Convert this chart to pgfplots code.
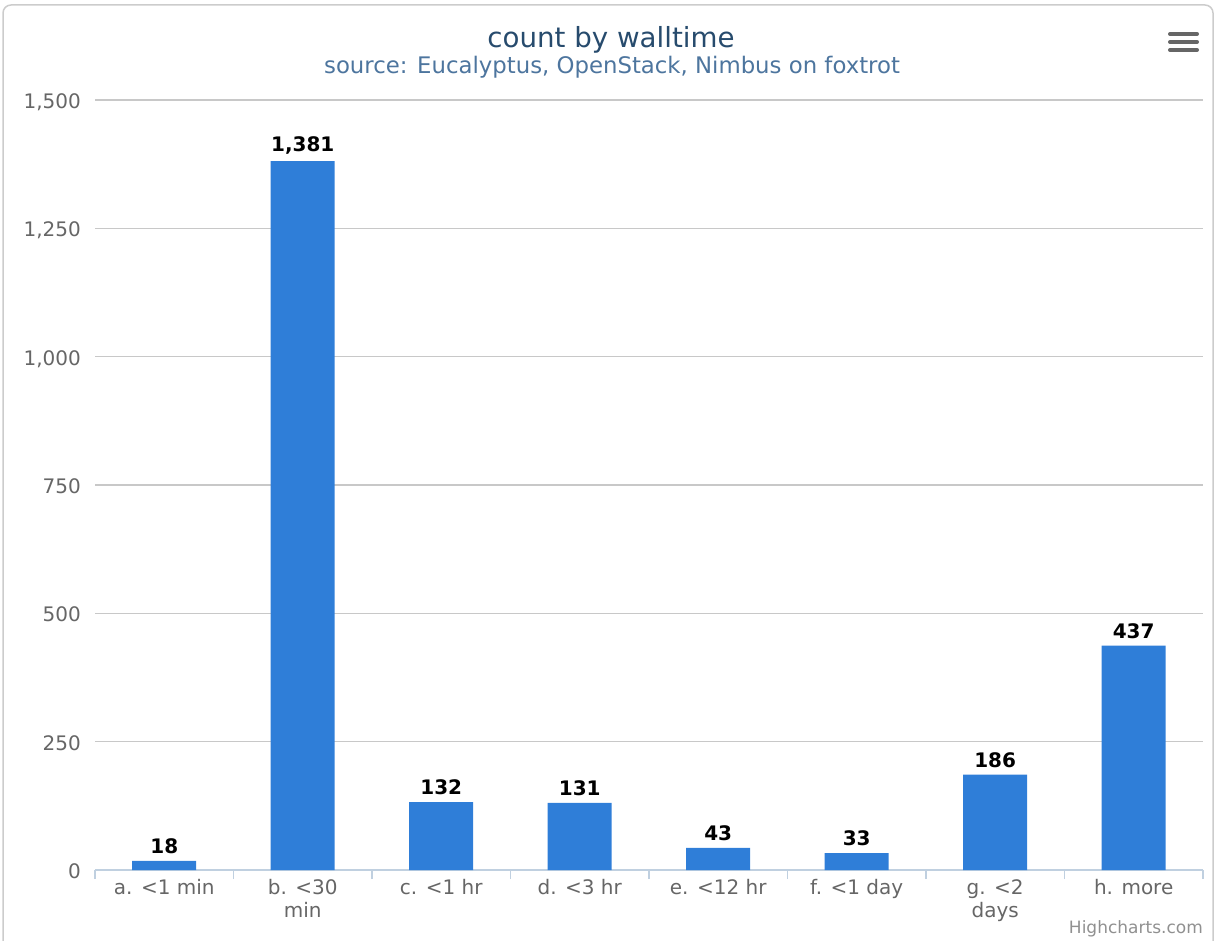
\documentclass[border=0pt]{standalone}
\usepackage{pgfplots}
\pgfplotsset{compat=1.18}
\usepackage{fontspec}
\setmainfont{DejaVu Sans}
\definecolor{barblue}{HTML}{2F7ED8}
\definecolor{gridgray}{HTML}{C8C8C8}
\definecolor{axisblue}{HTML}{C0D0E0}
\definecolor{labelgray}{HTML}{666666}
\definecolor{titlecol}{HTML}{274B6D}
\definecolor{subcol}{HTML}{4D759E}
\definecolor{creditgray}{HTML}{909090}
\definecolor{bordergray}{HTML}{CCCCCC}
\definecolor{menugray}{HTML}{666666}
\begin{document}
\begin{tikzpicture}
\draw[bordergray, line width=1.5pt, rounded corners=8pt] (3pt,-20pt) rectangle (1213pt,935pt);
\begin{axis}[
  at={(95pt,70pt)}, anchor=south west,
  scale only axis, width=1108pt, height=770pt,
  xmin=-0.5, xmax=7.5, ymin=0, ymax=1500,
  ybar, bar width=64pt,
  axis x line*=bottom, axis y line*=left,
  x axis line style={draw=axisblue, line width=1.5pt, -},
  y axis line style={draw=none},
  xtick={-0.5,0.5,...,7.5},
  x tick label as interval,
  xticklabels={a. <1 min, {b. <30\\min}, c. <1 hr, d. <3 hr, e. <12 hr, f. <1 day, {g. <2\\days}, h. more},
  ytick={0,250,...,1500},
  ymajorgrids, grid style={gridgray, line width=1.5pt},
  tick align=outside, major tick length=9pt,
  xtick style={draw=axisblue, line width=1.5pt},
  ytick style={draw=none},
  /pgf/number format/1000 sep={,},
  /pgf/number format/assume math mode=true,
  scaled y ticks=false,
  xticklabel style={font=\fontsize{20}{23}\selectfont, text=labelgray, align=center, anchor=north, inner sep=0pt, yshift=0pt},
  yticklabel style={font=\fontsize{20}{23}\selectfont, text=labelgray, anchor=base east, inner sep=0pt, xshift=-5pt, yshift=-8.5pt},
  nodes near coords,
  nodes near coords style={font=\bfseries\fontsize{20}{23}\selectfont, text=black, anchor=south, inner sep=0pt, yshift=7pt},
]
\addplot[fill=barblue, draw=none] coordinates {(0,18) (1,1381) (2,132) (3,131) (4,43) (5,33) (6,186) (7,437)};
\end{axis}
\node[anchor=base, font=\fontsize{27.7}{32}\selectfont, text=titlecol] at (611pt,892pt) {count by walltime};
\node[anchor=base, font=\fontsize{22.8}{27}\selectfont, text=subcol] at (612pt,866pt) {source: Eucalyptus, OpenStack, Nimbus on foxtrot};
\node[anchor=base east, inner sep=0pt, font=\fontsize{17}{20}\selectfont, text=creditgray] at (1203pt,7pt) {Highcharts.com};
\foreach \yy in {906,898,890} \draw[menugray, line width=4pt, line cap=round] (1170pt,\yy pt) -- (1197pt,\yy pt);
\pgfresetboundingbox
\path[use as bounding box] (0pt,0pt) rectangle (1217pt,940pt);
\end{tikzpicture}
\end{document}
